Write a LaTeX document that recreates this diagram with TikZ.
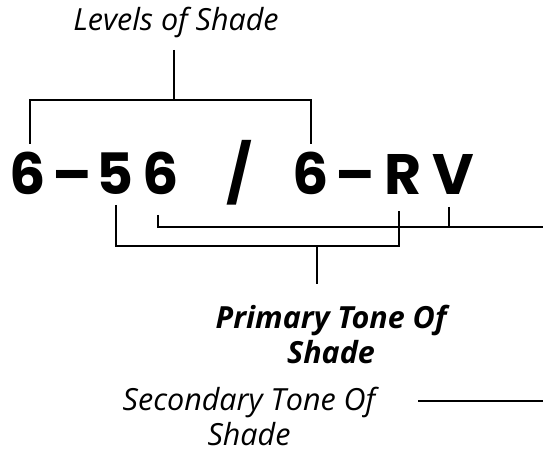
\documentclass[tikz,border=0pt]{standalone}
\usepackage{fontspec}
\setmainfont{Open Sans}
\newfontfamily\bigfont{Poppins}
\begin{document}
\begin{tikzpicture}[x=1pt,y=-1pt,
  big/.style={font=\bigfont\bfseries\fontsize{57}{57}\selectfont, inner sep=0pt, anchor=base},
  lab/.style={font=\itshape\fontsize{30.5}{35}\selectfont, inner sep=0pt, align=center, anchor=base},
  blab/.style={lab, font=\bfseries\itshape\fontsize{30.5}{35}\selectfont},
  thinline/.style={line width=1.3pt},
  thickline/.style={line width=2.8pt}]
\useasboundingbox (0,0) rectangle (543,454);
% labels (base anchor = baseline of last line)
\node[lab] (lev) at (176,31) {Levels of Shade};
\node[blab] (pri) at (331,363) {Primary Tone Of\\Shade};
\node[lab] (sec) at (249,445) {Secondary Tone Of\\Shade};
% code characters
\node[big] (c1) at (27.5,195) {6};
\node[big] (d1) at (72.5,195) {–};
\node[big] (c2) at (115.5,195) {5};
\node[big] (c3) at (161,195) {6};
\node[big] (sl) at (239.5,195) {/};
\node[big] (c4) at (311,195) {6};
\node[big] (d2) at (355.5,195) {–};
\node[big] (cR) at (403,195) {R};
\node[big] (cV) at (453,195) {V};
% coordinates
\coordinate (L0) at (174,50);
\coordinate (L1) at (174,100);
\coordinate (LL) at (30,100);
\coordinate (LR) at (311,100);
\coordinate (La) at (30,144);
\coordinate (Lb) at (311,144);
\coordinate (P1) at (116,205);
\coordinate (P2) at (116,246);
\coordinate (P3) at (399,246);
\coordinate (P4) at (399,211);
\coordinate (P5) at (317,246);
\coordinate (P6) at (317,284);
\coordinate (S1) at (158,215);
\coordinate (S2) at (158,227);
\coordinate (S3) at (543,227);
\coordinate (V1) at (449,207);
\coordinate (V2) at (449,227);
\coordinate (T1) at (418,401);
\coordinate (T2) at (543,401);
% connectors
\draw[thinline] (L0) -- (L1);
\draw[thinline] (La) -- (LL) -- (LR) -- (Lb);
\draw[thickline] (P1) -- (P2) -- (P3) -- (P4);
\draw[thickline] (P5) -- (P6);
\draw[thinline] (S1) -- (S2) -- (S3);
\draw[thinline] (V1) -- (V2);
\draw[thinline] (T1) -- (T2);
\end{tikzpicture}
\end{document}
